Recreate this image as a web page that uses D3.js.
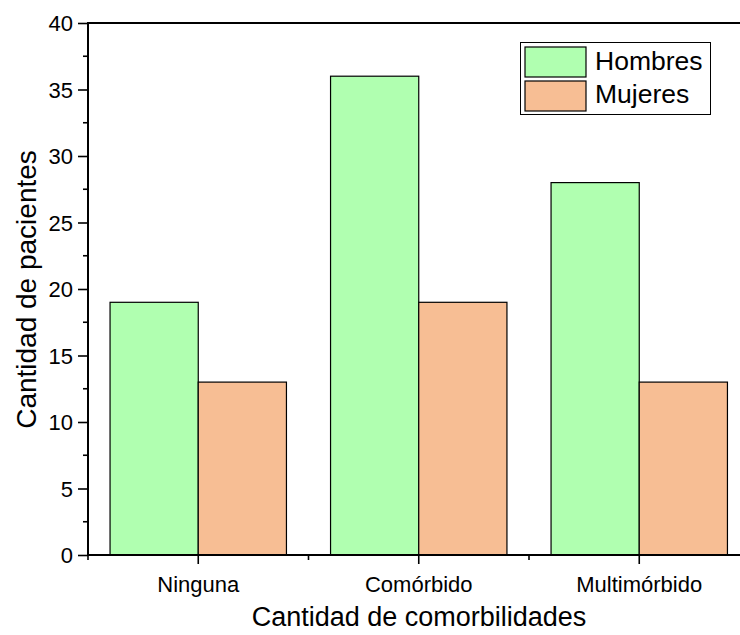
<!DOCTYPE html>
<html><head><meta charset="utf-8">
<script src="https://cdn.jsdelivr.net/npm/d3@7"></script>
<style>body{margin:0;background:#fff}svg{display:block;font-family:Arial,"Liberation Sans",sans-serif}</style>
</head><body><svg id="c" width="740" height="635"></svg>
<script>
const categories = ["Ninguna", "Comórbido", "Multimórbido"];
const seriesNames = ["Hombres", "Mujeres"];
const hombres = [19, 36, 28];
const mujeres = [13, 19, 13];
const yTicks = [0, 5, 10, 15, 20, 25, 30, 35, 40];
const colors = ["#b0ffb0", "#f7be94"];

(function () {
const svg = d3.select("#c");
const pLeft = 88, pTop = 23, pBottom = 555, pRight = 749.5;
const x = d3.scaleBand().domain(categories).range([pLeft, pRight]).paddingInner(0.2).paddingOuter(0.1);
const xs = d3.scaleBand().domain(seriesNames).range([0, x.bandwidth()]);
const y = d3.scaleLinear().domain([0, 40]).range([pBottom, pTop]);
const step = (pRight - pLeft) / categories.length;

const data = categories.map((c, i) => ({c, vals: [hombres[i], mujeres[i]]}));
const g = svg.append("g");
data.forEach(d => {
  d.vals.forEach((v, j) => {
    g.append("rect")
      .attr("x", x(d.c) + xs(seriesNames[j]))
      .attr("y", y(v))
      .attr("width", xs.bandwidth())
      .attr("height", y(0) - y(v))
      .attr("fill", colors[j])
      .attr("stroke", "#000").attr("stroke-width", 1.2);
  });
});

const ff = "Arial, 'Liberation Sans', sans-serif";
// Y axis
const ya = svg.append("g").attr("transform", `translate(${pLeft},0)`)
  .call(d3.axisLeft(y).tickValues(yTicks).tickSize(10).tickPadding(5));
ya.select(".domain").remove();
ya.selectAll("line").attr("stroke-width", 1.6);
ya.selectAll("text").attr("font-size", 22).attr("fill", "#000").attr("font-family", ff).attr("dy", "0.35em");
const minorY = d3.range(2.5, 40, 5);
svg.append("g").selectAll("line").data(minorY).join("line")
  .attr("x1", pLeft - 5).attr("x2", pLeft).attr("y1", d => y(d)).attr("y2", d => y(d))
  .attr("stroke", "#000").attr("stroke-width", 1.6);

// X axis
const xa = svg.append("g").attr("transform", `translate(0,${pBottom})`)
  .call(d3.axisBottom(x).tickSize(9).tickPadding(12));
xa.select(".domain").remove();
xa.selectAll("line").attr("stroke-width", 1.6);
xa.selectAll("text").attr("font-size", 22).attr("fill", "#000").attr("font-family", ff);
const minorX = d3.range(categories.length).map(i => pLeft + i * step);
svg.append("g").selectAll("line").data(minorX).join("line")
  .attr("x1", d => d).attr("x2", d => d).attr("y1", pBottom).attr("y2", pBottom + 5)
  .attr("stroke", "#000").attr("stroke-width", 1.6);

// frame lines
svg.append("line").attr("x1", pLeft).attr("x2", 740).attr("y1", pBottom).attr("y2", pBottom).attr("stroke", "#000").attr("stroke-width", 2);
svg.append("line").attr("x1", pLeft).attr("x2", 740).attr("y1", pTop).attr("y2", pTop).attr("stroke", "#000").attr("stroke-width", 2);
svg.append("line").attr("x1", pLeft).attr("x2", pLeft).attr("y1", pTop - 1).attr("y2", pBottom + 1).attr("stroke", "#000").attr("stroke-width", 2);

// Axis titles
svg.append("text").attr("x", 419).attr("y", 626).attr("text-anchor", "middle")
  .attr("font-size", 27).attr("font-family", ff).text("Cantidad de comorbilidades");
svg.append("text").attr("transform", "translate(36,289.5) rotate(-90)").attr("text-anchor", "middle")
  .attr("font-size", 28).attr("font-family", ff).text("Cantidad de pacientes");

// Legend
const lg = svg.append("g");
lg.append("rect").attr("x", 520.5).attr("y", 42.5).attr("width", 190).attr("height", 72)
  .attr("fill", "#fff").attr("stroke", "#000").attr("stroke-width", 1);
seriesNames.forEach((s, j) => {
  lg.append("rect").attr("x", 525).attr("y", 47 + j * 34).attr("width", 61).attr("height", 30)
    .attr("fill", colors[j]).attr("stroke", "#000").attr("stroke-width", 1.2);
  lg.append("text").attr("x", 595).attr("y", 70 + j * 33).attr("font-size", 26.5).attr("font-family", ff).text(s);
});
})();
</script></body></html>
